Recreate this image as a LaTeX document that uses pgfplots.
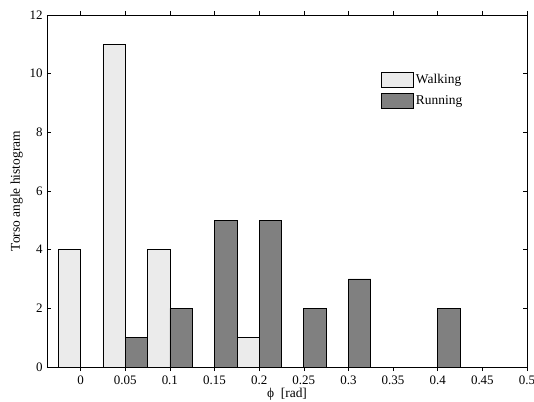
\documentclass[border=0pt]{standalone}
\usepackage{pgfplots}
\pgfplotsset{compat=1.18}
\usepackage{fontspec}
\setmainfont{Liberation Serif}
\definecolor{walkc}{HTML}{EBEBEB}
\definecolor{runc}{HTML}{808080}
\begin{document}
\fontsize{13}{15}\selectfont
\begin{tikzpicture}
\useasboundingbox (-47bp,-35bp) rectangle (487bp,367bp);
\begin{axis}[
  at={(0,0)}, anchor=south west,
  scale only axis, width=480bp, height=352bp,
  xmin=-0.0376, xmax=0.5, ymin=0, ymax=12,
  xtick={0,0.05,0.1,0.15,0.2,0.25,0.3,0.35,0.4,0.45,0.5},
  xticklabels={0,0.05,0.1,0.15,0.2,0.25,0.3,0.35,0.4,0.45,0.5},
  ytick={0,2,4,6,8,10,12},
  yticklabels={0,2,4,6,8,10,12},
  tick align=inside, major tick length=4bp,
  tick style={black, line width=0.5pt},
  axis line style={line width=0.8pt},
  /pgf/number format/assume math mode=true,
  ticklabel style={font=\fontsize{13}{15}\selectfont},
  xlabel={ϕ\ \ [rad]},
  ylabel={Torso angle histogram},
  label style={font=\fontsize{13.5}{15}\selectfont},
  xlabel style={yshift=5bp},
  ylabel style={yshift=-2bp},
  ybar, bar width=0.025,
  legend style={draw=none, fill=none, at={(0.69,0.845)}, anchor=north west,
    font=\fontsize{13.5}{15}\selectfont, row sep=6bp, cells={anchor=west}},
  legend image code/.code={\draw[#1, line width=0.6pt] (0bp,-7.5bp) rectangle (32bp,7.5bp);},
]
\addplot[bar shift=-0.0125, fill=walkc, draw=black, line width=0.6pt] coordinates {
  (0,4) (0.05,11) (0.1,4) (0.15,0) (0.2,1) (0.25,0) (0.3,0) (0.35,0) (0.4,0) (0.45,0) (0.5,0)};
\addplot[bar shift=0.0125, fill=runc, draw=black, line width=0.6pt] coordinates {
  (0,0) (0.05,1) (0.1,2) (0.15,5) (0.2,5) (0.25,2) (0.3,3) (0.35,0) (0.4,2) (0.45,0) (0.5,0)};
\legend{Walking, Running}
\end{axis}
\end{tikzpicture}
\end{document}
